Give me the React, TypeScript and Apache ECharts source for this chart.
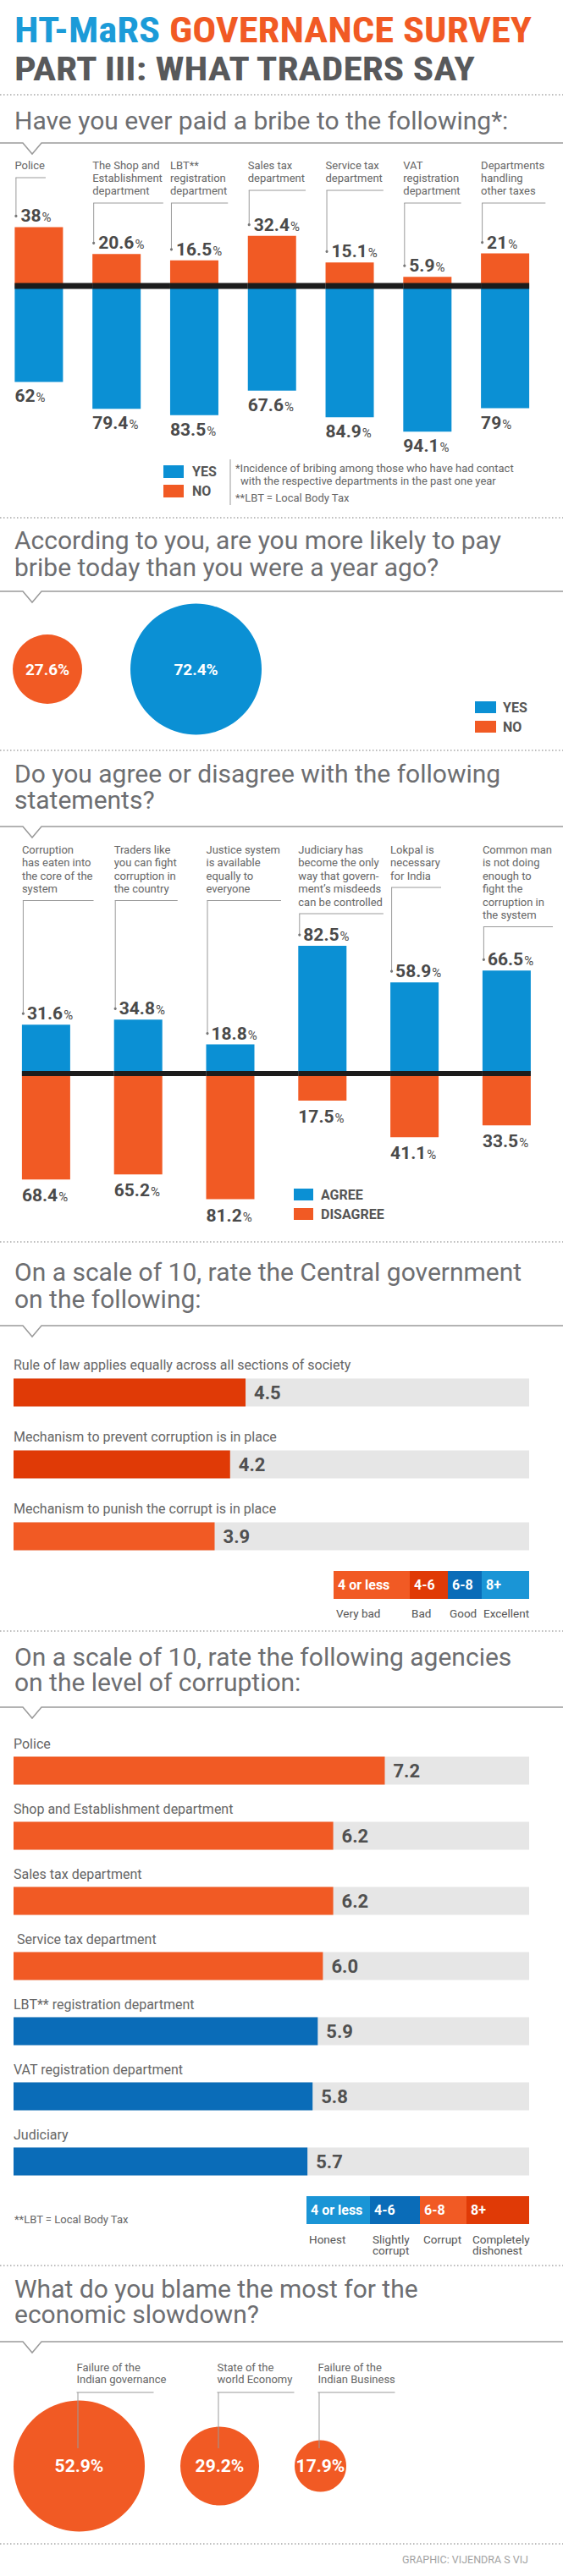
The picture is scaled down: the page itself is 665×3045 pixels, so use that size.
import React, { useEffect, useRef } from 'react';
import * as echarts from 'echarts';

// ---------------- DATA ----------------
const bribeCategories = [
  'Police',
  'The Shop and\nEstablishment\ndepartment',
  'LBT**\nregistration\ndepartment',
  'Sales tax\ndepartment',
  'Service tax\ndepartment',
  'VAT\nregistration\ndepartment',
  'Departments\nhandling\nother taxes',
];
const bribeYes = [62, 79.4, 83.5, 67.6, 84.9, 94.1, 79];
const bribeNo = [38, 20.6, 16.5, 32.4, 15.1, 5.9, 21];

const likelyNames = ['NO', 'YES'];
const likelyValues = [27.6, 72.4];

const statementCategories = [
  'Corruption\nhas eaten into\nthe core of the\nsystem',
  'Traders like\nyou can fight\ncorruption in\nthe country',
  'Justice system\nis available\nequally to\neveryone',
  'Judiciary has\nbecome the only\nway that govern-\nment\u2019s misdeeds\ncan be controlled',
  'Lokpal is\nnecessary\nfor India',
  'Common man\nis not doing\nenough to\nfight the\ncorruption in\nthe system',
];
const statementAgree = [31.6, 34.8, 18.8, 82.5, 58.9, 66.5];
const statementDisagree = [68.4, 65.2, 81.2, 17.5, 41.1, 33.5];

const govItems = [
  'Rule of law applies equally across all sections of society',
  'Mechanism to prevent corruption is in place',
  'Mechanism to punish the corrupt is in place',
];
const govScores = [4.5, 4.2, 3.9];
const govRangeLabels = ['4 or less', '4-6', '6-8', '8+'];
const govRangeNames = ['Very bad', 'Bad', 'Good', 'Excellent'];

const agencyItems = [
  'Police',
  'Shop and Establishment department',
  'Sales tax department',
  ' Service tax department',
  'LBT** registration department',
  'VAT registration department',
  'Judiciary',
];
const agencyScores = [7.2, 6.2, 6.2, 6.0, 5.9, 5.8, 5.7];
const agencyRangeLabels = ['4 or less', '4-6', '6-8', '8+'];
const agencyRangeNames = ['Honest', 'Slightly\ncorrupt', 'Corrupt', 'Completely\ndishonest'];
const scoreThresholds = [4, 6, 8];

const blameCategories = [
  'Failure of the\nIndian governance',
  'State of the\nworld Economy',
  'Failure of the\nIndian Business',
];
const blameValues = [52.9, 29.2, 17.9];

const headings = [
  ['Have you ever paid a bribe to the following*:'],
  ['According to you, are you more likely to pay', 'bribe today than you were a year ago?'],
  ['Do you agree or disagree with the following', 'statements?'],
  ['On a scale of 10, rate the Central government', 'on the following:'],
  ['On a scale of 10, rate the following agencies', 'on the level of corruption:'],
  ['What do you blame the most for the', 'economic slowdown?'],
];

// ---------------- STYLE / LAYOUT ----------------
const BLUE = '#0b90d4';
const ORANGE = '#f15a24';
const RED = '#e03a06';
const DARKBLUE = '#0a6cb8';
const LIGHTBLUE = '#1a95d6';
const TITLE_BLUE = '#1b9bd8';
const SANS = 'Roboto, "Noto Sans", "DejaVu Sans", sans-serif';
const COND = '"Roboto Condensed", "DejaVu Sans Condensed", "Liberation Sans Narrow", Roboto, sans-serif';
const HEAD = '#6d6e71';
const LABEL = '#666666';
const VALUE = '#4a4a4a';

const headingY = [142, 638, 914, 1503, 1958, 2705];
const headingGap = [32, 32, 31, 32, 30, 30];
const headingTargetW = [586, 580, 575, 601, 577, 480];

const govColors = [ORANGE, RED, DARKBLUE, LIGHTBLUE];
const agencyColors = [LIGHTBLUE, DARKBLUE, ORANGE, RED];
const rangeIndex = (v: number) => {
  let k = 0;
  while (k < scoreThresholds.length && v >= scoreThresholds[k]) k++;
  return k;
};

let ctx: CanvasRenderingContext2D | null = null;
function measure(text: string, font: string): number {
  if (!ctx) ctx = document.createElement('canvas').getContext('2d');
  if (!ctx) return text.length * 7;
  ctx.font = font;
  return ctx.measureText(text).width;
}

const T = (x: number, y: number, text: string, fontSize: number, fill: string, extra: any = {}) => ({
  type: 'text',
  x,
  y,
  silent: true,
  style: {
    text,
    fontSize,
    fontFamily: SANS,
    fill,
    align: 'left',
    verticalAlign: 'middle',
    textAlign: 'left',
    textVerticalAlign: 'middle',
    ...extra,
  },
});

const dotted = (y: number) => ({
  type: 'line',
  silent: true,
  shape: { x1: 0, y1: y, x2: 665, y2: y },
  style: { stroke: '#a8a8a8', lineWidth: 1.4, lineDash: [1.5, 2.5] },
});

const notchLine = (y: number) => ({
  type: 'polyline',
  silent: true,
  shape: { points: [[0, y], [27, y], [38, y + 13], [49, y], [665, y]] },
  style: { stroke: '#9a9a9a', lineWidth: 1.5, fill: null },
});

const legendSwatch = (x: number, y: number, w: number, h: number, color: string, label: string, tx: number, fs: number) => [
  { type: 'rect', silent: true, shape: { x, y: y - h / 2, width: w, height: h }, style: { fill: color } },
  T(tx, y, label, fs, '#555555', { fontWeight: 'bold' }),
];

const scaleLegend = (segs: number[], y: number, h: number, colors: string[], labels: string[], names: string[], namesY: number, nameLH: number, nameDx: number[]) => {
  const out: any[] = [];
  for (let k = 0; k < labels.length; k++) {
    out.push({ type: 'rect', silent: true, shape: { x: segs[k], y, width: segs[k + 1] - segs[k], height: h }, style: { fill: colors[k] } });
    out.push(T(segs[k] + 5, y + h / 2, labels[k], 16, '#ffffff', { fontWeight: 'bold' }));
    out.push({
      type: 'text', silent: true, x: segs[k] + nameDx[k], y: namesY,
      style: { text: names[k], fontSize: 13.5, fontFamily: SANS, fill: '#555555', lineHeight: nameLH, align: 'left', verticalAlign: 'top', textAlign: 'left', textVerticalAlign: 'top' },
    });
  }
  return out;
};

// column chart decorations: category labels, leader brackets, dots, thick zero line
type ColOpts = { labels: string[]; labelTop: number; lineH: number; fontSize: number; barW: number; axisThick: number; gap: number; dotOffset: number };
const columnDecor = (o: ColOpts) => (params: any, api: any) => {
  const i = params.dataIndex;
  const xi = api.value(0);
  const v = api.value(1);
  const base = api.coord([xi, 0]);
  const top = api.coord([xi, v]);
  const band = api.size([1, 0])[0];
  const left = base[0] - o.barW / 2;
  const lines = o.labels[i].split('\n');
  const tw = Math.max(...lines.map((l) => measure(l, `${o.fontSize}px ${SANS}`)));
  const yh = o.labelTop + o.lineH * (lines.length - 0.5) + o.gap;
  const yDot = top[1] - o.dotOffset;
  const right = i < o.labels.length - 1 ? left + band : left + o.barW;
  const lineStyle = { stroke: '#9a9a9a', lineWidth: 1 };
  return {
    type: 'group',
    children: [
      {
        type: 'text',
        style: { text: o.labels[i], x: left, y: o.labelTop, fill: LABEL, fontSize: o.fontSize, fontFamily: SANS, lineHeight: o.lineH, align: 'left', verticalAlign: 'top', textAlign: 'left', textVerticalAlign: 'top' },
      },
      { type: 'line', shape: { x1: left + 1, y1: yh, x2: left + 1 + tw, y2: yh }, style: lineStyle },
      { type: 'line', shape: { x1: left + 1.5, y1: yh, x2: left + 1.5, y2: yDot }, style: lineStyle },
      { type: 'circle', shape: { cx: left + 1.5, cy: yDot, r: 1.6 }, style: { fill: '#777777' } },
      { type: 'rect', shape: { x: left, y: base[1] - o.axisThick / 2, width: right - left, height: o.axisThick }, style: { fill: '#1c1c1c' } },
    ],
  };
};

const rowDecor = (labels: string[], dy: number, fontSize: number) => (params: any, api: any) => {
  const i = params.dataIndex;
  const p = api.coord([0, api.value(1)]);
  return {
    type: 'text',
    style: { text: labels[i], x: p[0], y: p[1] + dy, fill: LABEL, fontSize, fontFamily: SANS, align: 'left', verticalAlign: 'middle', textAlign: 'left', textVerticalAlign: 'middle' },
  };
};

const bubbleLayout = (values: number[], maxD: number, exp: number, startX: number, gap: number) => {
  const max = Math.max(...values);
  const ds = values.map((v) => maxD * Math.pow(v / max, exp));
  const cs: number[] = [];
  let x = startX;
  ds.forEach((d) => {
    cs.push(x + d / 2);
    x += d + gap;
  });
  return { ds, cs };
};

const pctRich = (size: number, pct: number) => ({
  v: { fontSize: size, fontWeight: 'bold', color: VALUE, fontFamily: SANS, verticalAlign: 'bottom', lineHeight: size },
  p: { fontSize: pct, color: VALUE, fontFamily: SANS, verticalAlign: 'bottom', lineHeight: pct, padding: [0, 0, 1, 1] },
});
const pctFmt = (p: any) => `{v|${Math.abs(p.value)}}{p|%}`;

function buildOption() {
  // title sizing
  const t1 = 'HT-MaRS GOVERNANCE SURVEY';
  const t2 = 'PART III: WHAT TRADERS SAY';
  const w1 = measure(t1, `bold 42px ${COND}`);
  const w2 = measure(t2, `bold 38px ${COND}`);

  // heading font size fitted to reference widths
  let ratio = 0;
  headings.forEach((h, k) => {
    ratio += headingTargetW[k] / measure(h[0], `26px ${SANS}`);
  });
  ratio /= headings.length;
  const headSize = Math.max(22, Math.min(30, 26 * ratio));

  const seg4 = [394, 484, 529, 569, 625];
  const seg5 = [362, 437, 496, 551, 625];

  const headingEls: any[] = [];
  headings.forEach((lines, k) => {
    lines.forEach((l, j) => headingEls.push(T(17, headingY[k] + j * headingGap[k], l, headSize, HEAD)));
  });

  const graphic: any[] = [
    {
      type: 'text', x: 17, y: 36, scaleX: 611 / w1, silent: true,
      style: {
        text: '{a|HT-MaRS} {b|GOVERNANCE SURVEY}', fontSize: 42, fontWeight: 'bold', fontFamily: COND, fill: ORANGE,
        align: 'left', verticalAlign: 'middle', textAlign: 'left', textVerticalAlign: 'middle',
        rich: {
          a: { fill: TITLE_BLUE, fontSize: 42, fontWeight: 'bold', fontFamily: COND },
          b: { fill: ORANGE, fontSize: 42, fontWeight: 'bold', fontFamily: COND },
        },
      },
    },
    {
      type: 'text', x: 17, y: 82, scaleX: 548 / w2, silent: true,
      style: { text: t2, fontSize: 38, fontWeight: 'bold', fontFamily: COND, fill: '#58595b', align: 'left', verticalAlign: 'middle', textAlign: 'left', textVerticalAlign: 'middle' },
    },
    ...[112, 612, 887, 1468, 1928, 2678, 3007].map(dotted),
    ...[169, 699, 977, 1567, 2018, 2768].map(notchLine),
    ...headingEls,

    // section 1 legend & notes
    ...legendSwatch(193, 557.5, 24, 15, BLUE, 'YES', 227, 16),
    ...legendSwatch(193, 580.5, 24, 15, ORANGE, 'NO', 227, 16),
    { type: 'line', silent: true, shape: { x1: 272, y1: 543, x2: 272, y2: 597 }, style: { stroke: '#999', lineWidth: 1 } },
    T(278, 553, '*Incidence of bribing among those who have had contact', 13, LABEL),
    T(284, 568, 'with the respective departments in the past one year', 13, LABEL),
    T(278, 588, '**LBT = Local Body Tax', 13, LABEL),

    // section 2 legend
    ...legendSwatch(561, 836, 25, 14, BLUE, 'YES', 594, 16),
    ...legendSwatch(561, 859, 25, 14, ORANGE, 'NO', 594, 16),

    // section 3 legend
    ...legendSwatch(347, 1412, 23, 14, BLUE, 'AGREE', 379, 16),
    ...legendSwatch(347, 1435, 23, 14, ORANGE, 'DISAGREE', 379, 16),

    // section 4 legend
    ...scaleLegend(seg4, 1857, 33, govColors, govRangeLabels, govRangeNames, 1900, 13.5, [3, 2, 2, 2]),

    // section 5 legend
    T(17, 2623, '**LBT = Local Body Tax', 13, LABEL),
    ...scaleLegend(seg5, 2596, 33, agencyColors, agencyRangeLabels, agencyRangeNames, 2640, 13.5, [3, 3, 4, 7]),

    // footer
    T(624, 3025, 'GRAPHIC: VIJENDRA S VIJ', 12.5, '#a3a3a3', { align: 'right', textAlign: 'right' }),
  ];

  const likely = bubbleLayout(likelyValues, 155, 0.66, 15, 57);
  const blame = bubbleLayout(blameValues, 155, 0.86, 16, 42);

  return {
    animation: false,
    backgroundColor: '#ffffff',
    graphic: { elements: graphic },
    grid: [
      { left: -1.5, top: 246.5, width: 644, height: 274.5 },
      { left: -10.8, top: 1086, width: 663.6, height: 366 },
      { left: 16, top: 1603.5, width: 609, height: 255 },
      { left: 16, top: 2054.5, width: 609, height: 539 },
    ],
    xAxis: [
      { type: 'category', gridIndex: 0, data: bribeCategories, show: false },
      { type: 'category', gridIndex: 1, data: statementCategories, show: false },
      { type: 'value', gridIndex: 2, min: 0, max: 10, show: false },
      { type: 'value', gridIndex: 3, min: 0, max: 10, show: false },
    ],
    yAxis: [
      { type: 'value', gridIndex: 0, min: -100, max: 50, show: false },
      { type: 'value', gridIndex: 1, min: -100, max: 100, show: false },
      { type: 'category', gridIndex: 2, data: govItems, inverse: true, show: false },
      { type: 'category', gridIndex: 3, data: agencyItems, inverse: true, show: false },
    ],
    series: [
      // ---- section 1
      {
        type: 'bar', name: 'NO', xAxisIndex: 0, yAxisIndex: 0, data: bribeNo, barWidth: 57, barGap: '-100%', silent: true,
        itemStyle: { color: ORANGE },
        label: { show: true, position: [7, -13], align: 'left', verticalAlign: 'middle', formatter: pctFmt, rich: pctRich(21, 15) },
      },
      {
        type: 'bar', name: 'YES', xAxisIndex: 0, yAxisIndex: 0, data: bribeYes.map((v) => -v), barWidth: 57, barGap: '-100%', silent: true,
        itemStyle: { color: BLUE },
        label: { show: true, position: [0, '100%'], offset: [0, 17], align: 'left', verticalAlign: 'middle', formatter: pctFmt, rich: pctRich(21, 15) },
      },
      {
        type: 'custom', xAxisIndex: 0, yAxisIndex: 0, z: 5, silent: true,
        data: bribeNo.map((v, i) => [i, v]),
        encode: { x: 0, y: 1 },
        renderItem: columnDecor({ labels: bribeCategories, labelTop: 187.5, lineH: 15, fontSize: 13, barW: 57, axisThick: 7, gap: 15, dotOffset: 13 }),
      },
      // ---- section 2 bubbles
      {
        type: 'custom', coordinateSystem: 'none', silent: true,
        data: likelyValues,
        renderItem: (params: any, api: any) => {
          const i = params.dataIndex;
          const v = api.value(0);
          return {
            type: 'group',
            children: [
              { type: 'circle', shape: { cx: likely.cs[i], cy: 791, r: likely.ds[i] / 2 }, style: { fill: likelyNames[i] === 'YES' ? BLUE : ORANGE } },
              { type: 'text', style: { text: `${v}%`, x: likely.cs[i], y: 791, fill: '#ffffff', fontSize: 19, fontWeight: 'bold', fontFamily: SANS, align: 'center', verticalAlign: 'middle', textAlign: 'center', textVerticalAlign: 'middle' } },
            ],
          };
        },
      },
      // ---- section 3
      {
        type: 'bar', name: 'AGREE', xAxisIndex: 1, yAxisIndex: 1, data: statementAgree, barWidth: 57, barGap: '-100%', silent: true,
        itemStyle: { color: BLUE },
        label: { show: true, position: [6, -13], align: 'left', verticalAlign: 'middle', formatter: pctFmt, rich: pctRich(21, 15) },
      },
      {
        type: 'bar', name: 'DISAGREE', xAxisIndex: 1, yAxisIndex: 1, data: statementDisagree.map((v) => -v), barWidth: 57, barGap: '-100%', silent: true,
        itemStyle: { color: ORANGE },
        label: { show: true, position: [0, '100%'], offset: [0, 19], align: 'left', verticalAlign: 'middle', formatter: pctFmt, rich: pctRich(21, 15) },
      },
      {
        type: 'custom', xAxisIndex: 1, yAxisIndex: 1, z: 5, silent: true,
        data: statementAgree.map((v, i) => [i, v]),
        encode: { x: 0, y: 1 },
        renderItem: columnDecor({ labels: statementCategories, labelTop: 996.25, lineH: 15.5, fontSize: 13, barW: 57, axisThick: 6, gap: 14, dotOffset: 13 }),
      },
      // ---- section 4
      {
        type: 'bar', xAxisIndex: 2, yAxisIndex: 2, data: govScores, barWidth: 33, silent: true,
        showBackground: true, backgroundStyle: { color: '#e6e6e6' },
        itemStyle: { color: (p: any) => govColors[rangeIndex(p.value)] },
        label: { show: true, position: 'right', distance: 10, formatter: (p: any) => Number(p.value).toFixed(1), fontSize: 22, fontWeight: 'bold', color: '#505050', fontFamily: SANS },
      },
      {
        type: 'custom', xAxisIndex: 2, yAxisIndex: 2, silent: true,
        data: govScores.map((v, i) => [v, i]),
        encode: { x: 0, y: 1 },
        renderItem: rowDecor(govItems, -33, 16),
      },
      // ---- section 5
      {
        type: 'bar', xAxisIndex: 3, yAxisIndex: 3, data: agencyScores, barWidth: 33, silent: true,
        showBackground: true, backgroundStyle: { color: '#e6e6e6' },
        itemStyle: { color: (p: any) => agencyColors[rangeIndex(p.value)] },
        label: { show: true, position: 'right', distance: 10, formatter: (p: any) => Number(p.value).toFixed(1), fontSize: 22, fontWeight: 'bold', color: '#505050', fontFamily: SANS },
      },
      {
        type: 'custom', xAxisIndex: 3, yAxisIndex: 3, silent: true,
        data: agencyScores.map((v, i) => [v, i]),
        encode: { x: 0, y: 1 },
        renderItem: rowDecor(agencyItems, -32, 16),
      },
      // ---- section 6 bubbles
      {
        type: 'custom', coordinateSystem: 'none', silent: true,
        data: blameValues,
        renderItem: (params: any, api: any) => {
          const i = params.dataIndex;
          const v = api.value(0);
          const cx = blame.cs[i];
          const cy = 2915;
          const lx = cx - 3;
          const yh = 2828;
          const lineStyle = { stroke: '#9a9a9a', lineWidth: 1 };
          return {
            type: 'group',
            children: [
              { type: 'circle', shape: { cx, cy, r: blame.ds[i] / 2 }, style: { fill: ORANGE } },
              { type: 'text', style: { text: blameCategories[i], x: lx, y: 2791, fill: LABEL, fontSize: 13, fontFamily: SANS, lineHeight: 14, align: 'left', verticalAlign: 'top', textAlign: 'left', textVerticalAlign: 'top' } },
              { type: 'line', shape: { x1: lx, y1: yh, x2: lx + 91, y2: yh }, style: lineStyle },
              { type: 'line', shape: { x1: lx + 1.5, y1: yh, x2: lx + 1.5, y2: cy - 21 }, style: lineStyle },
              { type: 'text', style: { text: `${v}%`, x: cx, y: cy, fill: '#ffffff', fontSize: 21, fontWeight: 'bold', fontFamily: SANS, align: 'center', verticalAlign: 'middle', textAlign: 'center', textVerticalAlign: 'middle' } },
            ],
          };
        },
      },
    ],
  };
}

export default function App() {
  const ref = useRef<HTMLDivElement>(null);
  useEffect(() => {
    if (!ref.current) return;
    const chart = echarts.init(ref.current, null, { renderer: 'svg' });
    chart.setOption(buildOption() as any);
    return () => chart.dispose();
  }, []);
  return (
    <div
      ref={ref}
      style={{ position: 'absolute', left: 0, top: 0, width: 665, height: 3045, background: '#ffffff' }}
    />
  );
}
